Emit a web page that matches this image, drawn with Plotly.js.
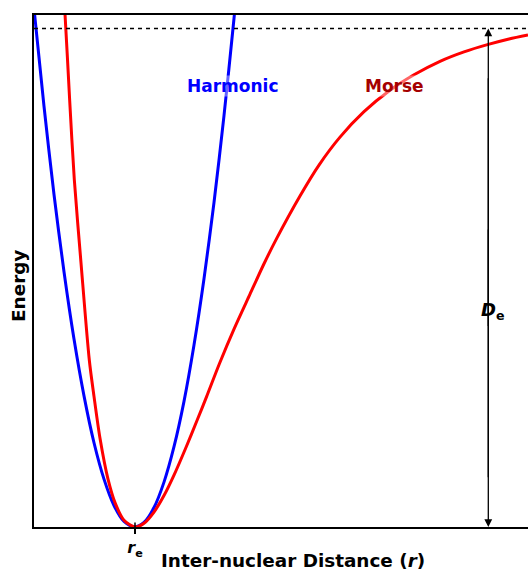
<!DOCTYPE html>
<html>
<head>
<meta charset="utf-8">
<script src="https://cdn.plot.ly/plotly-3.0.1.min.js"></script>
<style>html,body{margin:0;padding:0;overflow:hidden;background:#fff}</style>
</head>
<body>
<div id="chart" style="width:528px;height:570px"></div>
<script>
// Inter-nuclear distance r (arbitrary units), energy in units of De
const harmonicR = [0.0, 0.1, 0.2, 0.3, 0.4, 0.5, 0.6, 0.7, 0.8, 0.9, 1.005, 1.1, 1.2, 1.3, 1.4, 1.5, 1.6, 1.7, 1.8, 1.9, 2.0, 2.05];
const harmonicE = [1.04, 0.844, 0.667, 0.512, 0.377, 0.263, 0.169, 0.096, 0.043, 0.011, 0.0, 0.009, 0.039, 0.090, 0.161, 0.252, 0.365, 0.498, 0.651, 0.825, 1.020, 1.125];
const morseR = [0.28, 0.307, 0.357, 0.403, 0.47, 0.553, 0.60, 0.66, 0.74, 0.81, 0.90, 1.01, 1.10, 1.20, 1.30, 1.40, 1.527, 1.627, 1.727, 1.853, 2.0, 2.16, 2.3, 2.427, 2.66, 2.85, 3.06, 3.3, 3.56, 3.8, 4.06, 4.3, 4.543, 4.75, 4.94];
const morseE = [1.11, 1.04, 0.855, 0.697, 0.53, 0.335, 0.262, 0.178, 0.096, 0.049, 0.0135, 0.0, 0.0074, 0.030, 0.063, 0.104, 0.163, 0.212, 0.262, 0.327, 0.397, 0.467, 0.528, 0.579, 0.664, 0.726, 0.782, 0.833, 0.876, 0.907, 0.934, 0.953, 0.968, 0.979, 0.987];
const rEq = 1.01;      // equilibrium distance r_e
const De = 1.0;        // dissociation energy
const arrowR = 4.543;  // where the De arrow is drawn
const tickLabels = ['<b><i>r</i><sub>e</sub></b>'];

const F = 'DejaVu Sans, Arial, sans-serif';
const traces = [
  {x: harmonicR, y: harmonicE, mode: 'lines', line: {color: '#0000ff', width: 3, shape: 'spline', smoothing: 0.8}, hoverinfo: 'skip'},
  {x: morseR, y: morseE, mode: 'lines', line: {color: '#ff0000', width: 3, shape: 'spline', smoothing: 0.8}, hoverinfo: 'skip'}
];
const PL = 34, PR = 528, PT = 15, PB = 527;
const px = v => (v - PL) / (PR - PL);
const py = v => (PB - v) / (PB - PT);
const ann = (x, y, text, size, color, extra) => Object.assign({xref: 'paper', yref: 'paper', x: px(x), y: py(y), xanchor: 'center', yanchor: 'middle', text: text, showarrow: false, font: {family: F, size: size, color: color}}, extra || {});
const layout = {
  width: 528, height: 570,
  margin: {l: 34, r: 0, t: 15, b: 43},
  paper_bgcolor: '#fff', plot_bgcolor: '#fff',
  showlegend: false,
  font: {family: F, color: '#000'},
  xaxis: {range: [0, 4.94], showgrid: false, zeroline: false, showline: true, mirror: true, linecolor: '#000', linewidth: 2,
    tickvals: [rEq], ticktext: tickLabels, ticks: 'outside', ticklen: 5, tickwidth: 1.5, tickcolor: '#000',
    tickfont: {family: F, size: 16, color: '#000'}, fixedrange: true},
  yaxis: {range: [0, 1.027], showgrid: false, zeroline: false, showline: true, linecolor: '#000', linewidth: 2,
    showticklabels: false, ticks: '', fixedrange: true},
  shapes: [
    {type: 'line', xref: 'paper', yref: 'y', x0: 0, x1: 1, y0: De, y1: De, line: {color: '#000', width: 1.5, dash: '4px,4px'}},
    {type: 'line', xref: 'x', yref: 'paper', x0: rEq, x1: rEq, y0: 0, y1: 0.009, line: {color: '#000', width: 1.5}},
    {type: 'line', xref: 'x', yref: 'y', x0: arrowR, x1: arrowR, y0: 0.1, y1: 0.9, line: {color: '#000', width: 1.3}}
  ],
  annotations: [
    {xref: 'x', yref: 'y', axref: 'x', ayref: 'y', x: arrowR, y: De, ax: arrowR, ay: 0.4, text: '', showarrow: true, arrowhead: 2, arrowsize: 1.2, arrowwidth: 1.3, arrowcolor: '#000'},
    {xref: 'x', yref: 'y', axref: 'x', ayref: 'y', x: arrowR, y: 0, ax: arrowR, ay: 0.6, text: '', showarrow: true, arrowhead: 2, arrowsize: 1.2, arrowwidth: 1.3, arrowcolor: '#000'},
    ann(493, 311, '<b><i>D</i><sub>e</sub></b>', 18, '#000'),
    ann(232, 86, '<b>Harmonic</b>', 17, '#0000ff', {bgcolor: 'rgba(255,255,255,0.4)', borderpad: 0}),
    ann(394.5, 86, '<b>Morse</b>', 17, '#a50000', {bgcolor: 'rgba(255,255,255,0.4)', borderpad: 0}),
    ann(292.5, 560, '<b>Inter-nuclear Distance (<i>r</i>)</b>', 18.4, '#000'),
    ann(18, 286, '<b>Energy</b>', 18.4, '#000', {textangle: -90})
  ]
};
Plotly.newPlot('chart', traces, layout, {displayModeBar: false, staticPlot: true});
</script>
</body>
</html>
